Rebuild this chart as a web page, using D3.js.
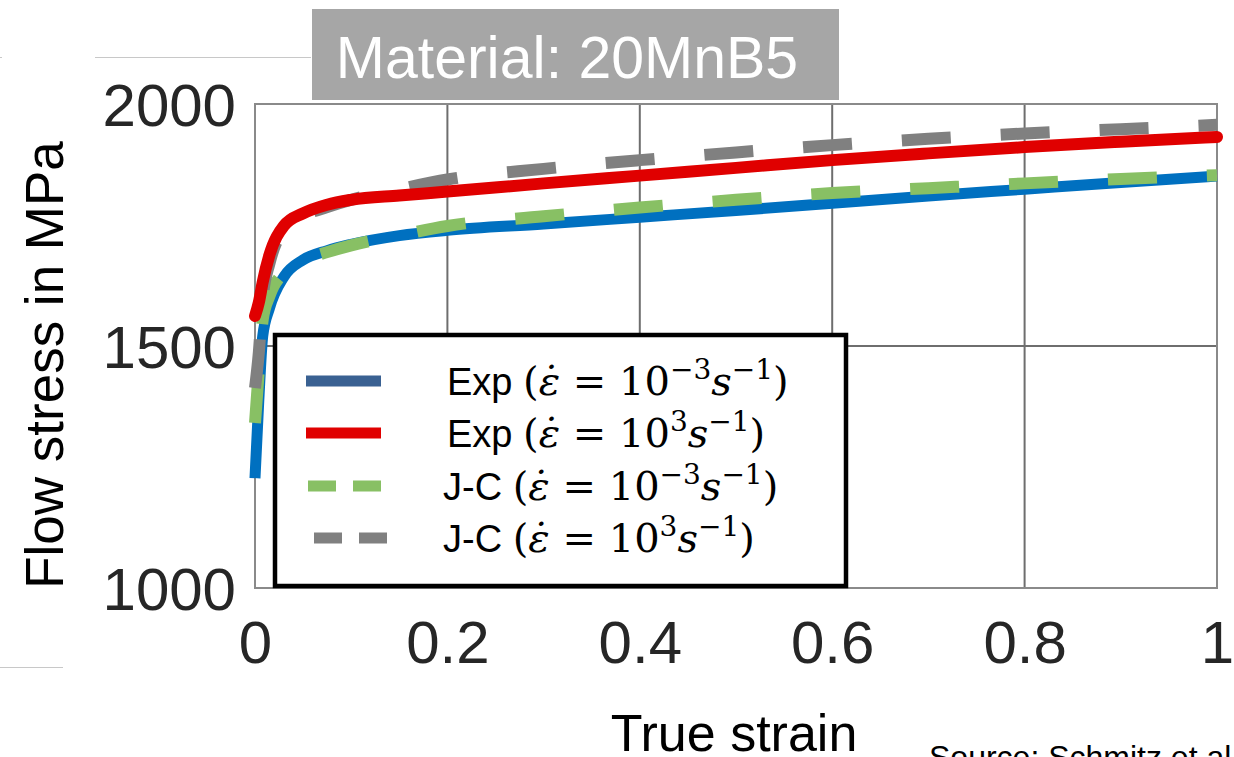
<!DOCTYPE html>
<html>
<head>
<meta charset="utf-8">
<script src="https://cdn.jsdelivr.net/npm/d3@7"></script>
<style>
  html, body { margin: 0; padding: 0; background: #fff; }
  svg { display: block; }
</style>
</head>
<body>
<svg id="chart" width="1234" height="757"></svg>
<script>
// ---------- data ----------
const strain = [0, 0.004, 0.008, 0.015, 0.03, 0.05, 0.075, 0.1, 0.15, 0.2, 0.3, 0.4, 0.5, 0.6, 0.7, 0.8, 0.9, 1.0];
const expLow  = [1227, 1390, 1520, 1578, 1643, 1678, 1697, 1710, 1728, 1739, 1752, 1766, 1780, 1795, 1810, 1824, 1838, 1851];
const expHigh = [1562, 1590, 1632, 1688, 1748, 1774, 1792, 1802, 1811, 1819, 1836, 1852, 1868, 1884, 1898, 1911, 1922, 1932];
const jcLow   = [1341, 1450, 1554, 1603, 1652, 1677, 1694, 1708, 1729, 1748, 1768, 1786, 1802, 1816, 1826, 1836, 1845, 1853];
const jcHigh  = [1413, 1487, 1600, 1670, 1740, 1769, 1787, 1802, 1824, 1844, 1866, 1884, 1900, 1915, 1928, 1939, 1948, 1957];

const xTicks = [0, 0.2, 0.4, 0.6, 0.8, 1];
const xTickLabels = ["0", "0.2", "0.4", "0.6", "0.8", "1"];
const yTicks = [1000, 1500, 2000];
const yTickLabels = ["1000", "1500", "2000"];

const seriesNames = ["Exp", "Exp", "J-C", "J-C"];
const seriesExps = ["\u22123", "3", "\u22123", "3"];
const seriesColors = ["#0070c0", "#e00000", "#88c064", "#808080"];
const legendColors = ["#3a6192", "#e00000", "#88c064", "#808080"];

const titleText = "Material: 20MnB5";
const xTitle = "True strain";
const yTitle = "Flow stress in MPa";
const sourceText = "Source: Schmitz et al";

// ---------- layout ----------
const svg = d3.select("#chart");
const x = d3.scaleLinear().domain([0, 1]).range([255, 1217]);
const y = d3.scaleLinear().domain([1000, 2000]).range([588, 104]);

// faint decoration lines
svg.append("line").attr("x1", 95).attr("x2", 311).attr("y1", 57.5).attr("y2", 57.5)
  .attr("stroke", "#c8c8c8").attr("stroke-width", 1);
svg.append("line").attr("x1", 0).attr("x2", 2).attr("y1", 57.5).attr("y2", 57.5)
  .attr("stroke", "#c8c8c8").attr("stroke-width", 1);
svg.append("line").attr("x1", 0).attr("x2", 63).attr("y1", 667.5).attr("y2", 667.5)
  .attr("stroke", "#c8c8c8").attr("stroke-width", 1);

// title box
svg.append("rect").attr("x", 312).attr("y", 9).attr("width", 527).attr("height", 91)
  .attr("fill", "#a6a6a6");
svg.append("text").attr("x", 567).attr("y", 78).attr("text-anchor", "middle")
  .attr("font-family", "Liberation Sans, Arial, sans-serif").attr("font-size", 59)
  .attr("fill", "#ffffff").text(titleText);

// grid
const grid = svg.append("g");
grid.selectAll("line.vx").data(xTicks.filter(d => d > 0 && d < 1)).enter().append("line")
  .attr("x1", d => x(d)).attr("x2", d => x(d)).attr("y1", y(2000)).attr("y2", y(1000))
  .attr("stroke", "#6e6e6e").attr("stroke-width", 2);
grid.selectAll("line.hy").data(yTicks.filter(d => d > 1000 && d < 2000)).enter().append("line")
  .attr("x1", x(0)).attr("x2", x(1)).attr("y1", d => y(d)).attr("y2", d => y(d))
  .attr("stroke", "#6e6e6e").attr("stroke-width", 2);
// frame
svg.append("rect").attr("x", x(0)).attr("y", y(2000)).attr("width", x(1) - x(0)).attr("height", y(1000) - y(2000))
  .attr("fill", "none").attr("stroke", "#8a8a8a").attr("stroke-width", 2);

// axes (labels via d3 axis)
const xAxis = d3.axisBottom(x).tickValues(xTicks).tickFormat((d, i) => xTickLabels[i]).tickSize(0).tickPadding(0);
const gx = svg.append("g").attr("transform", "translate(0,663)").call(xAxis);
gx.select(".domain").remove();
gx.selectAll("text").attr("font-family", "Liberation Sans, Arial, sans-serif").attr("font-size", 60)
  .attr("fill", "#262626").attr("dy", 0).attr("y", 0);

const yAxis = d3.axisLeft(y).tickValues(yTicks).tickFormat((d, i) => yTickLabels[i]).tickSize(0).tickPadding(19);
const gy = svg.append("g").attr("transform", "translate(255,0)").call(yAxis);
gy.select(".domain").remove();
gy.selectAll("text").attr("font-family", "Liberation Sans, Arial, sans-serif").attr("font-size", 60)
  .attr("fill", "#262626").attr("dy", "0.36em");

// axis titles
svg.append("text").attr("x", 734).attr("y", 751).attr("text-anchor", "middle")
  .attr("font-family", "Liberation Sans, Arial, sans-serif").attr("font-size", 52)
  .attr("fill", "#000").text(xTitle);
svg.append("text").attr("transform", "translate(63,365) rotate(-90)").attr("text-anchor", "middle")
  .attr("font-family", "Liberation Sans, Arial, sans-serif").attr("font-size", 53)
  .attr("fill", "#000").text(yTitle);

// source
svg.append("text").attr("x", 929).attr("y", 768)
  .attr("font-family", "Liberation Sans, Arial, sans-serif").attr("font-size", 32)
  .attr("fill", "#000").text(sourceText);

// ---------- series ----------
const line = d3.line().x(d => x(d[0])).y(d => y(d[1])).curve(d3.curveMonotoneX);
const zipS = vals => strain.map((s, i) => [s, vals[i]]);

const plot = svg.append("g");
plot.append("path").datum(zipS(expLow)).attr("d", line).attr("fill", "none")
  .attr("stroke", seriesColors[0]).attr("stroke-width", 11);
plot.append("path").datum(zipS(jcLow)).attr("d", line).attr("fill", "none")
  .attr("stroke", seriesColors[2]).attr("stroke-width", 12).attr("stroke-dasharray", "49,50");
plot.append("path").datum(zipS(jcHigh)).attr("d", line).attr("fill", "none")
  .attr("stroke", seriesColors[3]).attr("stroke-width", 12).attr("stroke-dasharray", "49,50");
plot.append("path").datum(zipS(expHigh)).attr("d", line).attr("fill", "none")
  .attr("stroke", seriesColors[1]).attr("stroke-width", 12).attr("stroke-linecap", "round");

// ---------- legend ----------
const lg = svg.append("g");
lg.append("rect").attr("x", 275).attr("y", 335).attr("width", 571).attr("height", 251)
  .attr("fill", "#fff").attr("stroke", "#000").attr("stroke-width", 4.5);
const rowY = [381, 433, 486, 538];
const dashed = [false, false, true, true];
const sampleX0 = [306, 306, 308, 314];
rowY.forEach((ry, i) => {
  lg.append("line").attr("x1", sampleX0[i]).attr("x2", sampleX0[i] + 75).attr("y1", ry).attr("y2", ry)
    .attr("stroke", legendColors[i]).attr("stroke-width", 11)
    .attr("stroke-dasharray", dashed[i] ? "28,17" : null);
  const t = lg.append("text").attr("x", seriesNames[i] === "Exp" ? 447 : 443).attr("y", ry + 14)
    .attr("font-size", 38).attr("fill", "#000");
  t.append("tspan").attr("font-family", "Liberation Sans, Arial, sans-serif").text(seriesNames[i] + " ");
  t.append("tspan").attr("font-family", "DejaVu Serif, serif").attr("font-size", 40).text("(");
  t.append("tspan").attr("font-family", "DejaVu Serif, serif").attr("font-style", "italic").attr("font-size", 40).text("\u03b5\u0307");
  t.append("tspan").attr("font-family", "DejaVu Serif, serif").attr("font-size", 40).text(" = 10");
  t.append("tspan").attr("font-family", "DejaVu Serif, serif").attr("font-size", 28).attr("dy", -16).text(seriesExps[i]);
  t.append("tspan").attr("font-family", "DejaVu Serif, serif").attr("font-style", "italic").attr("font-size", 40).attr("dy", 16).text("s");
  t.append("tspan").attr("font-family", "DejaVu Serif, serif").attr("font-size", 28).attr("dy", -16).text("\u22121");
  t.append("tspan").attr("font-family", "DejaVu Serif, serif").attr("font-size", 40).attr("dy", 16).text(")");
});
</script>
</body>
</html>
